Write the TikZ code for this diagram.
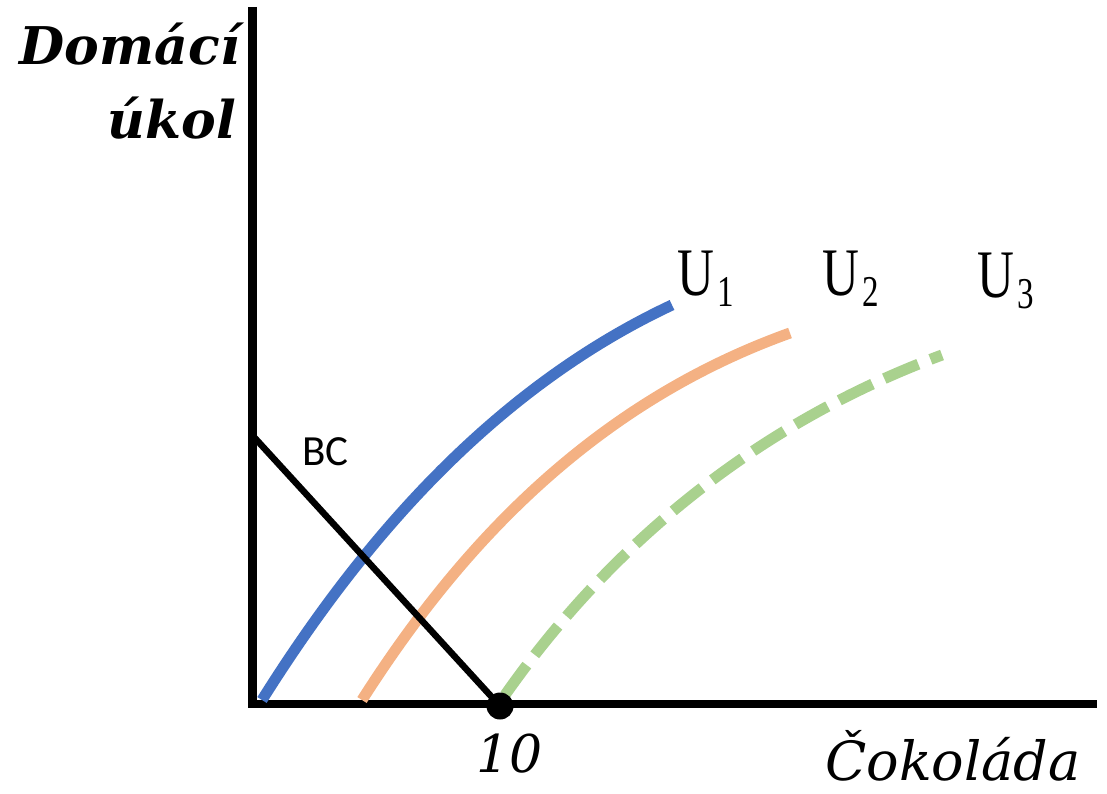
\documentclass[tikz,border=0pt]{standalone}
\usepackage{fontspec}
\setmainfont{Liberation Serif}
\newfontfamily\axisfont{DejaVu Serif}
\newfontfamily\curvefont[FakeStretch=0.75]{Liberation Serif}
\newfontfamily\bcfont{Carlito}
\definecolor{uone}{HTML}{4472C4}
\definecolor{utwo}{HTML}{F4B183}
\definecolor{uthree}{HTML}{A9D18E}
\newcommand{\usub}[1]{\hspace{3pt}\raisebox{-11pt}{\fontsize{44}{44}\selectfont #1}}

\begin{document}
\begin{tikzpicture}[
    x=1pt, y=-1pt,
    axis/.style={line width=8.5pt, line join=miter},
    budget/.style={line width=6.5pt},
    indiff/.style={line width=11pt},
    axislabel/.style={font=\axisfont\fontsize{52}{52}\selectfont, inner sep=0pt},
    ulabel/.style={font=\curvefont\fontsize{68}{68}\selectfont, inner sep=0pt, anchor=base west}
]
\useasboundingbox (0,0) rectangle (1107,794);

% axes
\coordinate (ytop) at (252.5,7);
\coordinate (xend) at (1097,704);
\draw[axis] (ytop) |- (xend);

% indifference curves
\coordinate (uonestart) at (262,700);
\coordinate (uoneend) at (672,305);
\coordinate (utwostart) at (362,700);
\coordinate (utwoend) at (790,333);
\coordinate (uthreestart) at (505,695);
\coordinate (uthreeend) at (942,355);
\draw[indiff, uone] (uonestart) .. controls (350,560) and (480,395) .. (uoneend);
\draw[indiff, utwo] (utwostart) .. controls (445,570) and (575,410) .. (utwoend);
\draw[indiff, uthree, dash pattern=on 37pt off 13pt] (uthreestart) .. controls (600,560) and (740,430) .. (uthreeend);

% budget constraint
\node[circle, fill=black, inner sep=0pt, minimum size=27pt] (ten) at (500,706) {};
\coordinate (bctop) at (253,436);
\draw[budget] (bctop) -- (ten.center);

% labels
\node[axislabel, font=\axisfont\bfseries\itshape\fontsize{52}{52}\selectfont, anchor=base east] (ylabtop) at (240,65) {Domácí};
\node[axislabel, font=\axisfont\bfseries\itshape\fontsize{52}{52}\selectfont, anchor=base east] (ylabbottom) at (236,139) {úkol};
\node[axislabel, font=\axisfont\itshape\fontsize{54}{54}\selectfont, anchor=base west] (xlab) at (825,780) {Čokoláda};
\node[axislabel, font=\axisfont\itshape\fontsize{52}{52}\selectfont, anchor=base west] (tenlab) at (476,772) {10};
\node[font=\bcfont\fontsize{43}{43}\selectfont, inner sep=0pt, anchor=base west] (bclab) at (302,465) {BC};
\node[ulabel] (uonelab) at (677,295) {U\usub{1}};
\node[ulabel] (utwolab) at (822,295) {U\usub{2}};
\node[ulabel] (uthreelab) at (977,297) {U\usub{3}};
\end{tikzpicture}
\end{document}
